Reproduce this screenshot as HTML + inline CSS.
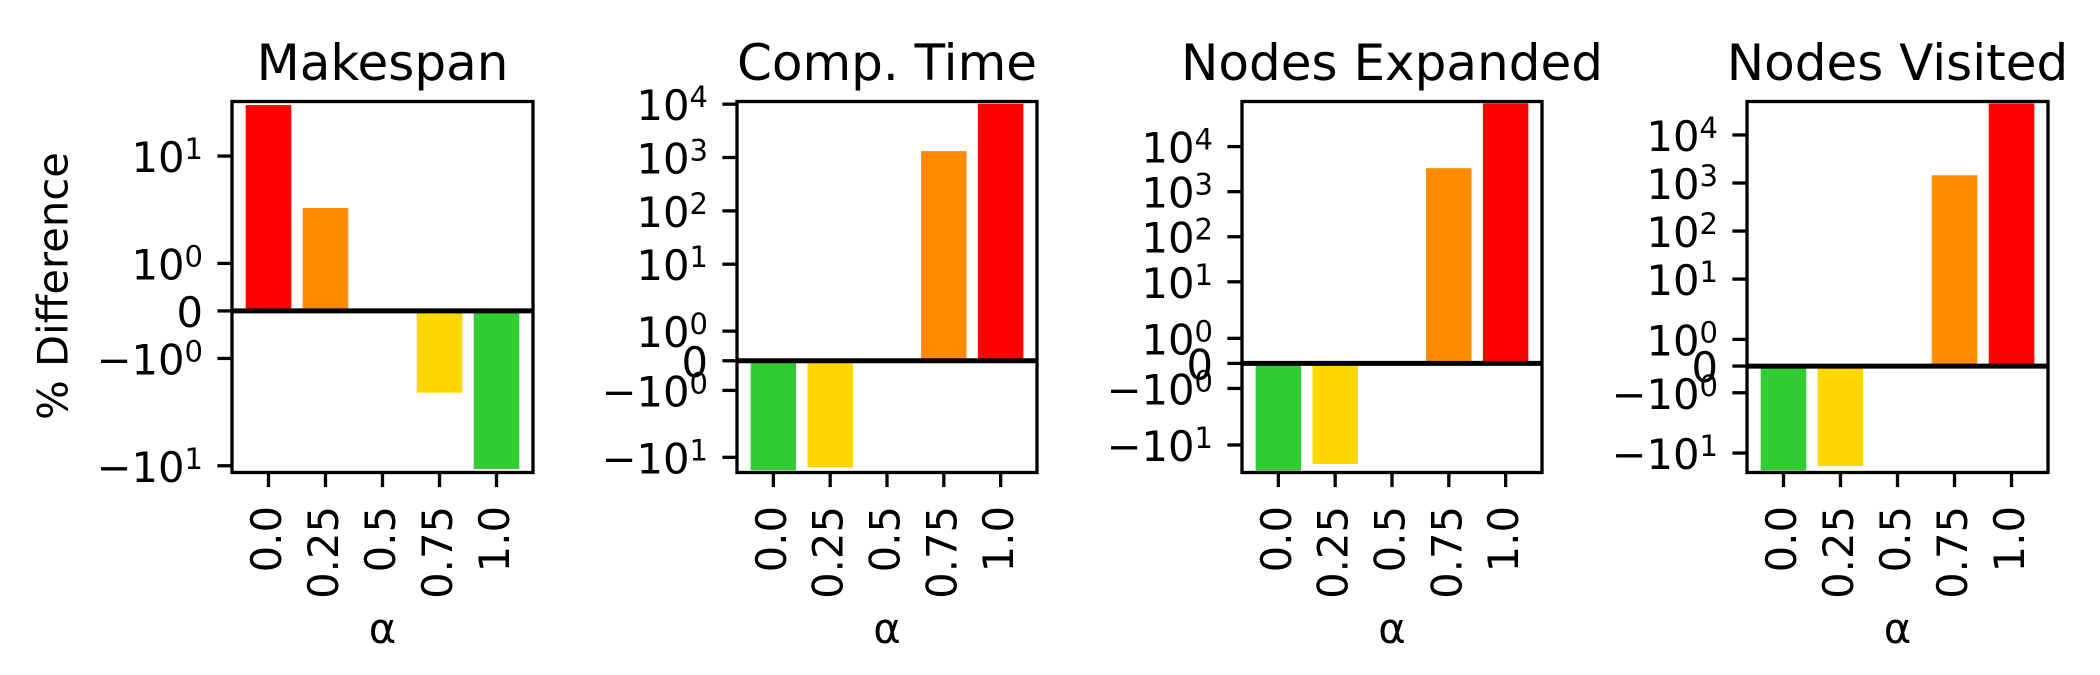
<!DOCTYPE html>
<html><head><meta charset="utf-8"><style>
html,body{margin:0;padding:0;background:#fff;}
svg{display:block;font-family:"DejaVu Sans","Liberation Sans",sans-serif;}
</style></head><body>
<svg id="fig" width="2100" height="675" viewBox="0 0 2100 675" xmlns="http://www.w3.org/2000/svg">
<rect width="2100" height="675" fill="#fff"/>
<text x="53" y="286" font-size="41.7" text-anchor="middle" dominant-baseline="central" transform="rotate(-90 53 286)">% Difference</text>
</svg>
<script>
const categories = ["0.0","0.25","0.5","0.75","1.0"];
const titles = ["Makespan","Comp. Time","Nodes Expanded","Nodes Visited"];
const makespanValues = [39.5, 2.47, 0, -1.72, -10.9];
const compTimeValues = [-17.5, -15.5, 0, 1320, 10200];
const nodesExpandedValues = [-37.1, -26.4, 0, 3320, 91000];
const nodesVisitedValues = [-23.1, -18.5, 0, 1450, 45200];
const makespanColors = ["#ff0000","#ff8c00","#ffffff","#ffd700","#32cd32"];
const otherColors = ["#32cd32","#ffd700","#ffffff","#ff8c00","#ff0000"];
const makespanTicks = [10, 1, 0, -1, -10];
const bigTicks = [10000, 1000, 100, 10, 1, 0, -1, -10];

const NS = "http://www.w3.org/2000/svg";
const svg = document.getElementById("fig");
const panels = [
  {vals: makespanValues, cols: makespanColors, ticks: makespanTicks, left: 232, right: 533},
  {vals: compTimeValues, cols: otherColors, ticks: bigTicks, left: 737, right: 1037},
  {vals: nodesExpandedValues, cols: otherColors, ticks: bigTicks, left: 1242, right: 1542},
  {vals: nodesVisitedValues, cols: otherColors, ticks: bigTicks, left: 1747, right: 2048}
];
const TOP = 101.5, BOT = 472.5, LT = 2, LS = 1/(1-0.1);
function T(v){ const a = Math.abs(v); const s = v < 0 ? -1 : 1;
  return s * (a <= LT ? a/LT*LS : LS + Math.log10(a/LT)); }
function mk(tag, attrs){ const e = document.createElementNS(NS, tag);
  for (const k in attrs) e.setAttribute(k, attrs[k]); svg.appendChild(e); return e; }

panels.forEach((p, pi) => {
  const mx = Math.max(...p.vals), mn = Math.min(...p.vals);
  const tTop = T(mx*1.1), tBot = T(mn*1.1);
  const y = v => TOP + (tTop - T(v)) / (tTop - tBot) * (BOT - TOP);
  const xw = p.right - p.left;
  const x = i => p.left + (i + 0.64) / 5.28 * xw;
  const bw = 0.8 / 5.28 * xw;
  p.vals.forEach((v, i) => {
    if (v === 0) return;
    const y0 = y(0), y1 = y(v);
    const r = mk("rect", {x: x(i) - bw/2, y: Math.min(y0, y1), width: bw, height: Math.abs(y1 - y0), fill: p.cols[i]});
    
    
  });
  const z = mk("line", {x1: p.left, x2: p.right, y1: y(0), y2: y(0), stroke: "#000", "stroke-width": 5});
  
  
  const fr = mk("rect", {x: p.left, y: TOP, width: xw, height: BOT - TOP, fill: "none", stroke: "#000", "stroke-width": 3.3});
  
  
  const t = mk("text", {x: (p.left + p.right)/2, y: 80, "font-size": 50, "text-anchor": "middle"});
  t.textContent = titles[pi];
  
  
  p.ticks.forEach(tv => {
    const ty = y(tv);
    const tl = mk("line", {x1: p.left - 14.6, x2: p.left, y1: ty, y2: ty, stroke: "#000", "stroke-width": 3.3});
    
    
    const lb = mk("text", {x: p.left - 29, y: ty + 16, "font-size": 41.7, "text-anchor": "end"});
    
    
    if (tv === 0) { lb.textContent = "0"; }
    else {
      const e = Math.round(Math.log10(Math.abs(tv)));
      const b = document.createElementNS(NS, "tspan");
      b.textContent = (tv < 0 ? "\u221210" : "10");
      lb.appendChild(b);
      const s = document.createElementNS(NS, "tspan");
      s.setAttribute("font-size", "29"); s.setAttribute("dy", "-13");
      s.textContent = String(e);
      lb.appendChild(s);
    }
  });
  categories.forEach((c, i) => {
    const tx = x(i);
    const tl = mk("line", {x1: tx, x2: tx, y1: BOT, y2: BOT + 14.6, stroke: "#000", "stroke-width": 3.3});
    
    
    const lb = mk("text", {x: tx - 2, y: 506, "font-size": 41.7, "text-anchor": "end", "dominant-baseline": "central", transform: "rotate(-90 " + (tx - 2) + " 506)"});
    lb.textContent = c;
    
    
  });
  const xl = mk("text", {x: (p.left + p.right)/2, y: 643, "font-size": 41.7, "text-anchor": "middle"});
  xl.textContent = "\u03b1";
  
  
});
</script>
</body></html>
